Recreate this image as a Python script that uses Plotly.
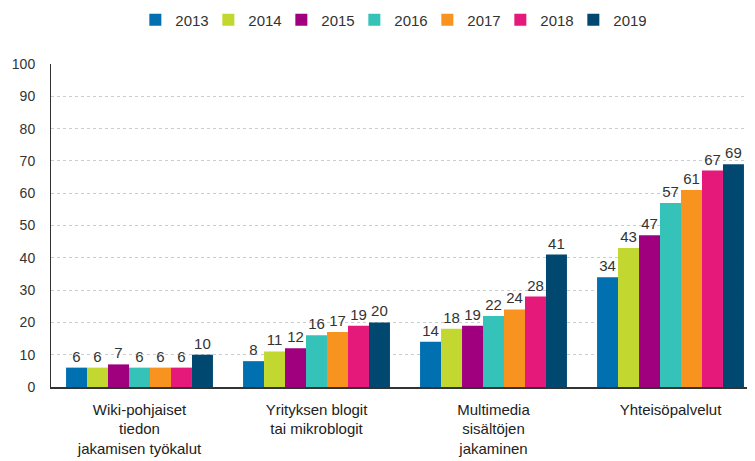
import plotly.graph_objects as go

categories = ["Wiki-pohjaiset<br>tiedon<br>jakamisen työkalut",
              "Yrityksen blogit<br>tai mikroblogit",
              "Multimedia<br>sisältöjen<br>jakaminen",
              "Yhteisöpalvelut"]
years = ["2013", "2014", "2015", "2016", "2017", "2018", "2019"]
v2013 = [6, 8, 14, 34]
v2014 = [6, 11, 18, 43]
v2015 = [7, 12, 19, 47]
v2016 = [6, 16, 22, 57]
v2017 = [6, 17, 24, 61]
v2018 = [6, 19, 28, 67]
v2019 = [10, 20, 41, 69]
series = [v2013, v2014, v2015, v2016, v2017, v2018, v2019]
colors = ["#0070B0", "#C2D830", "#A0007E", "#35C2B9", "#F7931E", "#E4197A", "#004870"]

fig = go.Figure()
for y, vals, c in zip(years, series, colors):
    fig.add_trace(go.Bar(name=y, x=categories, y=vals, marker=dict(color=c, line=dict(width=0)),
                         text=vals, textposition="outside", cliponaxis=False,
                         textfont=dict(size=15, color="#333333")))

fig.update_layout(
    barmode="group", bargap=0.17, bargroupgap=0,
    width=751, height=453,
    margin=dict(l=43, r=0, t=56, b=74, autoexpand=False),
    paper_bgcolor="white", plot_bgcolor="white",
    font=dict(family="Liberation Sans, Arial, sans-serif", size=14, color="#333333"),
    legend=dict(orientation="h", x=0.48, xanchor="center", y=1.136, yanchor="middle",
                font=dict(size=15), itemwidth=30, entrywidth=28, traceorder="normal"),
    showlegend=True,
)
fig.update_yaxes(range=[0, 100], dtick=10, showgrid=True, gridcolor="#CCCCCC", griddash="dot",
                 showline=True, linecolor="#333333", linewidth=1, ticks="", zeroline=False,
                 automargin=False, ticklabelstandoff=12, tickfont=dict(size=14, color="#333333"))
fig.update_xaxes(showline=True, linecolor="#333333", linewidth=1.5, ticks="", automargin=False,
                 ticklabelstandoff=8, tickfont=dict(size=15, color="#222222"))
fig.write_html("out.html")
